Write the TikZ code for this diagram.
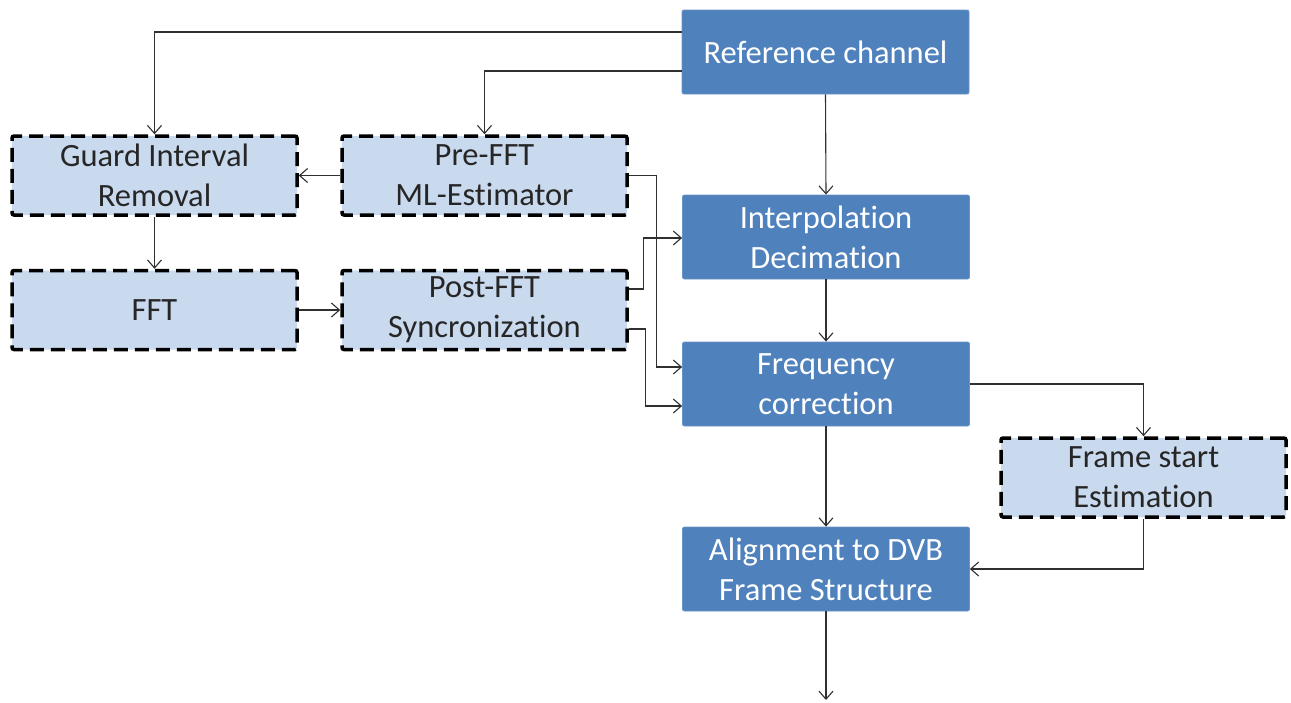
\documentclass[tikz,border=0pt]{standalone}
\usepackage{fontspec}
\setmainfont[Ligatures=NoCommon]{Carlito}
\usetikzlibrary{arrows.meta,calc}
\definecolor{boxblue}{HTML}{4F81BD}
\definecolor{lightblue}{HTML}{C9D9EE}
\definecolor{linegray}{HTML}{303030}
\begin{document}
\begin{tikzpicture}[x=1pt,y=-1pt,
  bluebox/.style={fill=boxblue,draw=boxblue!85!white,line width=0.8pt,rounded corners=2pt,
    minimum width=287pt,minimum height=84pt,inner sep=0pt,align=center,text=white,
    font=\fontsize{32.5}{40}\selectfont},
  dashbox/.style={fill=lightblue,draw=black,line width=3.5pt,dash pattern=on 14pt off 7pt,rounded corners=2pt,
    minimum width=285pt,minimum height=79pt,inner sep=0pt,align=center,text=black!85,
    font=\fontsize{32.5}{40}\selectfont},
  arr/.style={draw=linegray,line width=1.1pt,-{Straight Barb[length=8pt,width=14pt,line width=1.1pt]}}
]
\useasboundingbox (0,0) rectangle (1291,702);
\node[bluebox] (ref) at (825.5,52) {Reference channel};
\node[bluebox] (interp) at (826,237) {Interpolation\\Decimation};
\node[bluebox] (freq) at (826,384) {Frequency\\correction};
\node[bluebox] (align) at (826,569) {Alignment to DVB\\Frame Structure};
\node[dashbox] (guard) at (154.5,175.5) {Guard Interval\\Removal};
\node[dashbox] (pre) at (484.5,175.5) {Pre-FFT\\ML-Estimator};
\node[dashbox] (fft) at (154.5,310) {FFT};
\node[dashbox] (post) at (484.5,310) {Post-FFT\\Syncronization};
\node[dashbox] (frame) at (1143.5,477.5) {Frame start\\Estimation};
\coordinate (out) at (826,700);

\draw[arr] ($(ref.west)+(0,-20)$) -| (guard.north);
\draw[arr] ($(ref.west)+(0,19)$) -| (pre.north);
\draw[arr] (ref.south) -- (interp.north);
\draw[arr] (pre.west) -- (guard.east);
\draw[arr] (guard.south) -- (fft.north);
\draw[arr] (fft.east) -- (post.west);
\draw[arr] (pre.east) -- ++(28,0) |- ($(freq.west)+(0,-17)$);
\draw[arr] ($(post.east)+(0,-21)$) -- ++(15,0) |- ($(interp.west)+(0,1)$);
\draw[arr] ($(post.east)+(0,19)$) -- ++(17,0) |- ($(freq.west)+(0,22)$);
\draw[arr] (interp.south) -- (freq.north);
\draw[arr] (freq.south) -- (align.north);
\draw[arr] (freq.east) -| (frame.north);
\draw[arr] (frame.south) |- (align.east);
\draw[arr] (align.south) -- (out);
\end{tikzpicture}
\end{document}
